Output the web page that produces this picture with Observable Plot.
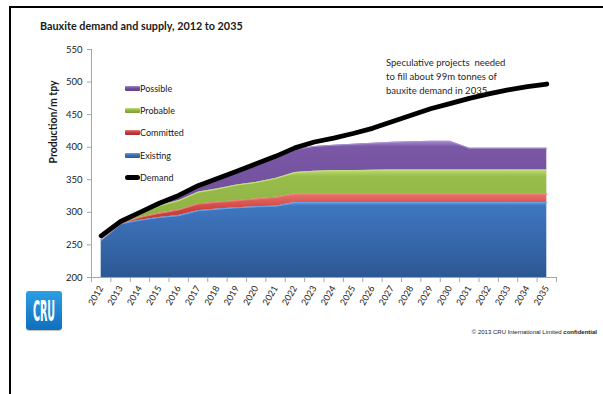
<!DOCTYPE html>
<html>
<head>
<meta charset="utf-8">
<script src="https://cdn.jsdelivr.net/npm/d3@7"></script>
<script src="https://cdn.jsdelivr.net/npm/@observablehq/plot@0.6"></script>
<style>
  html, body { margin: 0; padding: 0; background: #fff; }
  body { font-family: Lato, "Open Sans", sans-serif; color: #1a1a1a; }
  #page { position: relative; width: 603px; height: 394px; overflow: hidden; }
  #chart { position: absolute; left: 0; top: 0; }
  .frame-top { position: absolute; left: 9px; top: 6px; width: 594px; height: 2px; background: #000; }
  .frame-left { position: absolute; left: 9px; top: 6px; width: 2px; height: 388px; background: #000; }
  #title { position: absolute; left: 40px; top: 19px; font-size: 10.8px; font-weight: bold; white-space: nowrap; line-height: 14px; }
  #legend { position: absolute; left: 125px; top: 77px; font-size: 9px; }
  #legend .row { display: flex; align-items: center; height: 22.4px; }
  #legend .sw { width: 15px; height: 5px; border-radius: 1px; margin-right: 0px; }
  #legend .sw.line { height: 5px; border-radius: 3px; background: #000; }
  #note { position: absolute; left: 386px; top: 56px; font-size: 9.5px; line-height: 13.8px; white-space: pre; color: #1f1f2f; }
  #copy { position: absolute; right: 6px; top: 329px; font-family: "Liberation Sans", Arial, sans-serif; font-size: 6px; white-space: nowrap; color: #222; }
  #logo { position: absolute; left: 26px; top: 291px; width: 36px; height: 39px; border-radius: 3px;
          background: linear-gradient(#2c9fe4, #0f6fbd); box-shadow: 0 1px 1px rgba(0,0,0,0.25); overflow: hidden; }
  #logo span { position: absolute; left: -20px; top: 7px; width: 76px; text-align: center; color: #fff;
               font-family: "DejaVu Sans", sans-serif; font-weight: bold; font-size: 29px; line-height: 26px;
               transform: scaleX(0.33); transform-origin: center; }
</style>
</head>
<body>
<div id="page">
  <div id="chart"></div>
  <div class="frame-top"></div>
  <div class="frame-left"></div>
  <div id="title">Bauxite demand and supply, 2012 to 2035</div>
  <div id="legend"></div>
  <div id="note"></div>
  <div id="copy">© 2013 CRU International Limited <b>confidential</b></div>
  <div id="logo"><span>CRU</span></div>
</div>
<script>
// ---- Data ----
const years = [2012, 2013, 2014, 2015, 2016, 2017, 2018, 2019, 2020, 2021, 2022, 2023,
               2024, 2025, 2026, 2027, 2028, 2029, 2030, 2031, 2032, 2033, 2034, 2035];
const existing  = [258, 282, 288, 292, 295, 302.5, 305, 307, 308.5, 309.5, 315, 315,
                   315, 315, 315, 315, 315, 315, 315, 315, 315, 315, 315, 315];
const committed = [0, 0.5, 4, 6.5, 8.5, 10.5, 10.5, 11, 12, 13.5, 13, 13,
                   13, 13, 13, 13, 13, 13, 13, 13, 13, 13, 13, 13];
const probable  = [0, 0.5, 5, 11.5, 14.5, 18, 20.5, 24, 25.5, 29, 33, 35,
                   36, 36, 36.5, 37, 37, 37, 37, 37, 37, 37, 37, 37];
const possible  = [0, 0, 1, 3, 7, 8, 14, 19, 26, 31.5, 35, 38,
                   39, 40.5, 41.5, 42.5, 43.5, 44, 44, 33.5, 33.5, 33.5, 33.5, 33.5];
const demand    = [264, 286, 300, 314, 326, 341, 352, 363, 374.5, 386, 399, 408,
                   414, 421, 429, 439, 449, 459, 467, 475, 482, 488, 493, 497];
const yTicks = [200, 250, 300, 350, 400, 450, 500, 550];
const seriesNames = ["Existing", "Committed", "Probable", "Possible"];
const legendNames = ["Possible", "Probable", "Committed", "Existing", "Demand"];
const yLabel = "Production/m tpy";
const chartTitle = "Bauxite demand and supply, 2012 to 2035";
const noteText = "Speculative projects  needed\nto fill about 99m tonnes of\nbauxite demand in 2035";

// ---- Styles ----
const gradId = {Existing: "g-ex", Committed: "g-co", Probable: "g-pr", Possible: "g-po"};
const gradStops = {
  Existing:  [[0, "#5a92dc"], [0.05, "#3f77c0"], [1, "#2c5893"]],
  Committed: [[0, "#e8716c"], [0.35, "#cc433e"], [1, "#b0302c"]],
  Probable:  [[0, "#bedc74"], [0.1, "#98bd4b"], [0.9, "#8bb042"], [1, "#6f8f2f"]],
  Possible:  [[0, "#a58ccd"], [0.06, "#7a58a6"], [1, "#6a4994"]]
};
const highlight = {Existing: "#6aa2e6", Committed: "#ee7d78", Probable: "#c4e07c", Possible: "#a990d0"};

// ---- Build stacked table ----
const valuesBySeries = {Existing: existing, Committed: committed, Probable: probable, Possible: possible};
const table = [];
years.forEach((yr, i) => {
  let acc = 0;
  seriesNames.forEach((s, k) => {
    const lo = acc;
    acc += valuesBySeries[s][i];
    table.push({year: yr, series: s, lo: k === 0 ? yTicks[0] : lo, hi: acc});
  });
});
const demandRows = years.map((yr, i) => ({year: yr, demand: demand[i]}));
const xDomain = [years[0] - 0.5, years[years.length - 1] + 0.5];
const boundaries = years.map(y => y - 0.5).concat([xDomain[1]]);

const chart = Plot.plot({
  width: 603,
  height: 320,
  marginLeft: 91,
  marginRight: 47,
  marginTop: 49,
  marginBottom: 43,
  style: {fontFamily: "Lato, sans-serif", fontSize: "9.5px", color: "#1a1a1a", background: "transparent"},
  x: {type: "linear", domain: xDomain},
  y: {domain: [yTicks[0], yTicks[yTicks.length - 1]]},
  color: {type: "ordinal", domain: seriesNames, range: seriesNames.map(s => `url(#${gradId[s]})`)},
  marks: [
    Plot.areaY(table, {x: "year", y1: "lo", y2: "hi", z: "series", fill: "series", curve: "linear"}),
    Plot.lineY(table, {x: "year", y: "hi", z: "series", stroke: d => highlight[d.series], strokeWidth: 1.1, curve: "linear"}),
    Plot.lineY(demandRows, {x: "year", y: "demand", stroke: "#000", strokeWidth: 4.8, strokeLinecap: "round", strokeLinejoin: "round"}),
    Plot.ruleX([xDomain[0]], {stroke: "#a6a6a6"}),
    Plot.ruleY([yTicks[0]], {stroke: "#a6a6a6"}),
    Plot.axisY({ticks: yTicks, tickSize: 4, tickPadding: 5, stroke: "#a6a6a6", label: null}),
    Plot.axisX({ticks: boundaries, tickSize: 5, tickFormat: () => "", stroke: "#a6a6a6", label: null}),
    Plot.axisX({ticks: years, tickSize: 0, tickPadding: 9, tickRotate: -60, tickFormat: d => String(d), fontSize: 9, label: null}),
    Plot.text([yLabel], {text: d => d, frameAnchor: "left", dx: -38, rotate: -90, fontWeight: "bold", fontSize: 10.5})
  ]
});

// gradients
const svg = d3.select(chart);
const defs = svg.insert("defs", ":first-child");
seriesNames.forEach(s => {
  const g = defs.append("linearGradient").attr("id", gradId[s]).attr("x1", 0).attr("y1", 0).attr("x2", 0).attr("y2", 1);
  gradStops[s].forEach(([o, c]) => g.append("stop").attr("offset", o).attr("stop-color", c));
});
document.getElementById("chart").appendChild(chart);

// legend (HTML)
const legendSw = {
  Possible: "linear-gradient(#a58ccd, #7452a0 40%, #5f4188)",
  Probable: "linear-gradient(#c4e07c, #93b947 40%, #7a9d37)",
  Committed: "linear-gradient(#ee7d78, #c8413d 40%, #a52c29)",
  Existing: "linear-gradient(#6aa2e6, #3b71ba 40%, #2b5792)"
};
const legend = document.getElementById("legend");
legendNames.forEach(n => {
  const row = document.createElement("div");
  row.className = "row";
  const sw = document.createElement("div");
  sw.className = "sw" + (n === "Demand" ? " line" : "");
  if (legendSw[n]) sw.style.background = legendSw[n];
  const t = document.createElement("span");
  t.textContent = n;
  row.appendChild(sw); row.appendChild(t);
  legend.appendChild(row);
});
document.getElementById("note").textContent = noteText;
document.getElementById("title").textContent = chartTitle;
</script>
</body>
</html>
